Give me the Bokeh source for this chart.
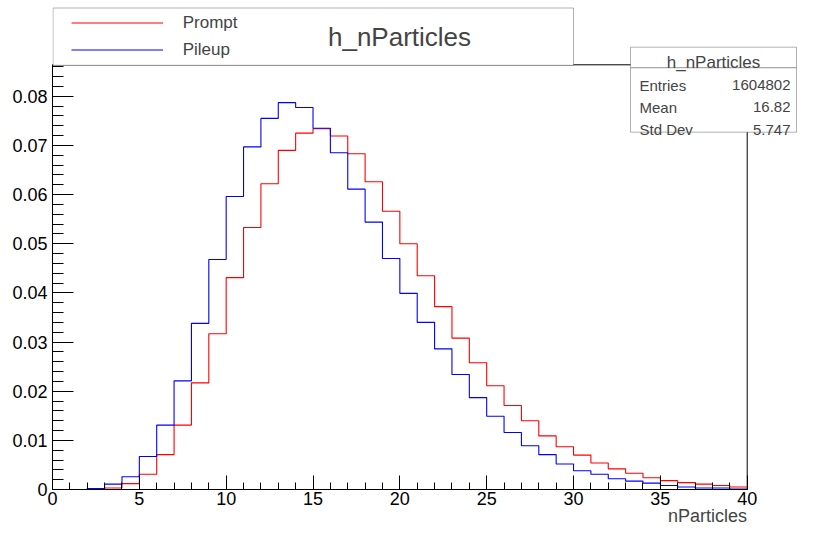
from bokeh.plotting import figure
from bokeh.models import (Range1d, FixedTicker, Label, BoxAnnotation,
                          Legend, LegendItem)
from bokeh.embed import file_html
from bokeh.resources import INLINE

# ---------------- data ----------------
bin_edges = list(range(0, 41))
prompt = [0.0, 0.0, 0.0001, 0.0003, 0.0012, 0.0031, 0.0071, 0.0131, 0.0217, 0.0317,
          0.0431, 0.0533, 0.0622, 0.0690, 0.0725, 0.0734, 0.0719, 0.0683, 0.0626, 0.0566,
          0.0500, 0.0435, 0.0372, 0.0308, 0.0258, 0.0211, 0.0171, 0.0140, 0.0109, 0.0087,
          0.0070, 0.0054, 0.0042, 0.0033, 0.0024, 0.0018, 0.0014, 0.0011, 0.0008, 0.0005]
pileup = [0.0, 0.0, 0.0002, 0.0011, 0.0026, 0.0067, 0.0131, 0.0221, 0.0338, 0.0468,
          0.0596, 0.0697, 0.0755, 0.0787, 0.0777, 0.0735, 0.0685, 0.0611, 0.0544, 0.0470,
          0.0399, 0.0340, 0.0286, 0.0234, 0.0187, 0.0149, 0.0116, 0.0089, 0.0071, 0.0052,
          0.0038, 0.0031, 0.0022, 0.0017, 0.0013, 0.0008, 0.0005, 0.0003, 0.0003, 0.0001]
series_names = ["Prompt", "Pileup"]
series_colors = ["#ff0000", "#0000ff"]
hist_title = "h_nParticles"
x_title = "nParticles"
stats_labels = ["Entries", "Mean", "Std Dev"]
stats_values = ["1604802", "16.82", "5.747"]
x_ticks = [0, 5, 10, 15, 20, 25, 30, 35, 40]
y_ticks = [0, 0.01, 0.02, 0.03, 0.04, 0.05, 0.06, 0.07, 0.08]
y_tick_labels = ["0", "0.01", "0.02", "0.03", "0.04", "0.05", "0.06", "0.07", "0.08"]
x_min, x_max = 0, 40
y_min, y_max = 0, 0.0864

# ---------------- layout (canvas pixel coordinates) ----------------
W, H = 797, 533
FL = 52            # frame left (= histogram pad left)
B = 489            # frame bottom (= histogram pad bottom)
PAD_R = 746.7      # pad right edge on canvas (x = 40)
PAD_T = 64.3       # pad top edge on canvas (y = y_max)
FONT = "Liberation Sans"
AX_FS = 18         # axis title font size (px)

xppu = (PAD_R - FL) / (x_max - x_min)
yppu = (B - PAD_T) / (y_max - y_min)
x_end = x_max + (W - PAD_R) / xppu
y_end = y_max + PAD_T / yppu

p = figure(width=W, height=H, x_range=Range1d(x_min, x_end), y_range=Range1d(y_min, y_end),
           output_backend="svg", toolbar_location=None, title=None,
           min_border_left=FL, min_border_right=0, min_border_top=0,
           min_border_bottom=H - B)
p.background_fill_color = "white"
p.background_fill_alpha = 0
p.border_fill_color = "white"
p.outline_line_color = None
p.xgrid.visible = False
p.ygrid.visible = False

# pad frame (top and right edges; left/bottom are the axes)
p.segment(x0=[x_min, x_max], y0=[y_max, y_min], x1=[x_max, x_max], y1=[y_max, y_max],
          line_color="black", line_width=1)

renderers = []
for vals, color in zip([prompt, pileup], series_colors):
    r = p.step(x=bin_edges, y=vals + [vals[-1]], mode="after",
               line_color=color, line_width=1.1)
    renderers.append(r)

# axes
xa, ya = p.xaxis[0], p.yaxis[0]
xa.ticker = FixedTicker(ticks=x_ticks, minor_ticks=list(range(x_min, x_max + 1)))
ya.ticker = FixedTicker(ticks=y_ticks,
                        minor_ticks=[round(0.002 * i, 3) for i in range(44)])
ya.major_label_overrides = dict(zip(y_ticks, y_tick_labels))
xa.bounds = (x_min, x_max)
ya.bounds = (y_min, y_max)
for ax, tin, tmin in [(xa, 14, 7), (ya, 21, 11)]:
    ax.major_tick_in = tin
    ax.major_tick_out = 0
    ax.minor_tick_in = tmin
    ax.minor_tick_out = 0
    ax.axis_line_color = "black"
    ax.major_tick_line_color = "black"
    ax.minor_tick_line_color = "black"
    ax.major_label_text_font = FONT
    ax.major_label_text_font_size = "18px"
    ax.major_label_text_color = "black"
ya.major_label_standoff = 5
xa.major_label_standoff = 2
# The axis title is centred on the frame, which runs on past x = 40 to the canvas edge;
# lead it with no-break spaces so that its visible text ends at the pad's right edge.
title_w = 4.39 * AX_FS          # advance width of "nParticles" (Liberation Sans)
nbsp_w = 0.2778 * AX_FS         # advance width of a no-break space
frame_mid = (FL + W) / 2
n_pad = int(round((2 * (PAD_R - frame_mid) - title_w) / nbsp_w))
xa.axis_label = "\u00a0" * n_pad + x_title
xa.axis_label_text_font = FONT
xa.axis_label_text_font_size = f"{AX_FS}px"
xa.axis_label_text_font_style = "normal"
xa.axis_label_standoff = -2
xa.axis_label_align = "center"


def sx(cx):
    return cx - FL


def sy(cy):
    return B - cy


# legend box (with histogram title inside)
p.add_layout(BoxAnnotation(left=sx(52.5), right=sx(573), top=sy(7.5), bottom=sy(64.8),
                           left_units="screen", right_units="screen",
                           top_units="screen", bottom_units="screen",
                           fill_color="white", fill_alpha=1,
                           line_color="black", line_width=1))
legend = Legend(items=[LegendItem(label=n, renderers=[r]) for n, r in zip(series_names, renderers)],
                location=(sx(70.7), sy(63)), padding=0, margin=0, spacing=0,
                glyph_width=92, glyph_height=27, label_height=27, label_standoff=20,
                label_text_font=FONT, label_text_font_size="17px",
                border_line_alpha=0, background_fill_alpha=0)
p.add_layout(legend, "center")
p.add_layout(Label(x=sx(399), y=sy(36.7), x_units="screen", y_units="screen",
                   text=hist_title, text_font=FONT, text_font_size="26px",
                   text_align="center", text_baseline="alphabetic"))

# stats box
SB_L, SB_R, SB_T, SB_S, SB_B = 630, 796, 46.7, 67.3, 131.7
for top, bot in [(SB_T, SB_S), (SB_S, SB_B)]:
    p.add_layout(BoxAnnotation(left=sx(SB_L), right=sx(SB_R), top=sy(top), bottom=sy(bot),
                               left_units="screen", right_units="screen",
                               top_units="screen", bottom_units="screen",
                               fill_color="white", fill_alpha=1,
                               line_color="black", line_width=1))
p.add_layout(Label(x=sx((SB_L + SB_R) / 2), y=sy(61.7), x_units="screen", y_units="screen",
                   text=hist_title, text_font=FONT, text_font_size="17px",
                   text_align="center", text_baseline="alphabetic"))
for i, (lab, val) in enumerate(zip(stats_labels, stats_values)):
    base = 84.5 + 22.3 * i
    p.add_layout(Label(x=sx(SB_L + 9), y=sy(base), x_units="screen", y_units="screen",
                       text=lab, text_font=FONT, text_font_size="15px",
                       text_align="left", text_baseline="alphabetic"))
    p.add_layout(Label(x=sx(SB_R - 6), y=sy(base), x_units="screen", y_units="screen",
                       text=val, text_font=FONT, text_font_size="15px",
                       text_align="right", text_baseline="alphabetic"))

open("out.html", "w").write(file_html(p, INLINE))
